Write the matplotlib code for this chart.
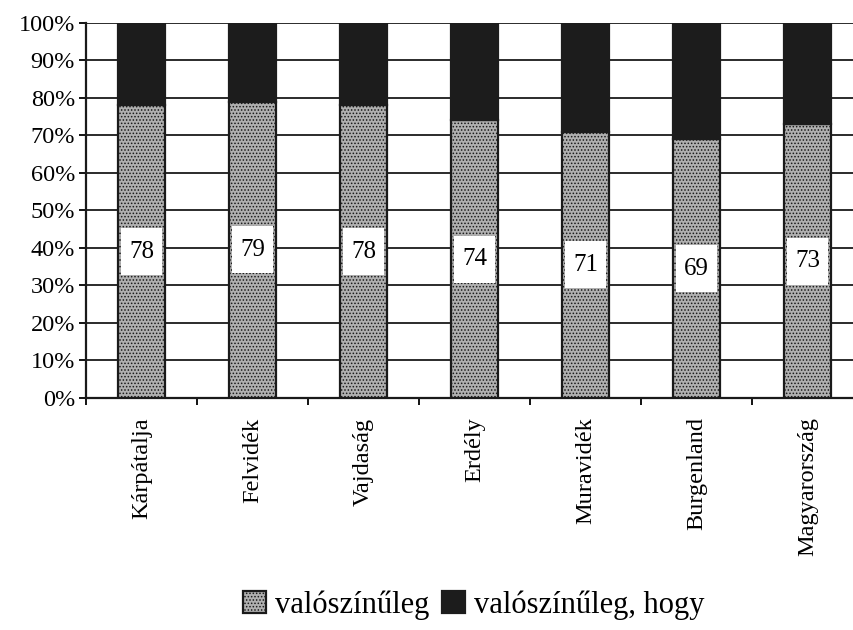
import matplotlib.pyplot as plt
import numpy as np

regions = ["Kárpátalja", "Felvidék", "Vajdaság", "Erdély", "Muravidék", "Burgenland", "Magyarország"]
likely = [78, 79, 78, 74, 71, 69, 73]
likely_that = [22, 21, 22, 26, 29, 31, 27]
legend_labels = ["valószínűleg", "valószínűleg, hogy"]

plt.rcParams["font.family"] = ["Liberation Serif", "DejaVu Serif"]
plt.rcParams["hatch.linewidth"] = 0.7

fig = plt.figure(figsize=(8.54, 6.3), dpi=100)
ax = fig.add_axes([0.1007, 0.3683, 0.9098, 0.5952])

x = np.arange(len(regions))
w = 0.42
b1 = ax.bar(x, likely, width=w, color="#b0b0b0", edgecolor="#1a1a1a",
            linewidth=1.6, hatch=".....", zorder=3)
b2 = ax.bar(x, likely_that, bottom=likely, width=w, color="#1c1c1c",
            edgecolor="#1c1c1c", linewidth=1.6, zorder=3)

# white label boxes inside the lower segment, centred on its midpoint
mid = np.array(likely) / 2
box_h = 12.5
ax.bar(x, box_h, bottom=mid - box_h / 2, width=w - 0.05, color="white",
       edgecolor="none", zorder=4)
for xi, v, m in zip(x, likely, mid):
    ax.text(xi, m, str(v), ha="center", va="center", fontsize=18, zorder=5)

ax.set_xlim(-0.5, len(regions) - 0.5)
ax.set_ylim(0, 100)
ax.set_yticks(range(0, 101, 10))
ax.set_yticklabels([f"{t}%" for t in range(0, 101, 10)], fontsize=17.5)
ax.yaxis.grid(True, color="#1a1a1a", linewidth=1.3, zorder=0)
ax.set_axisbelow(True)

ax.set_xticks(x)
ax.set_xticklabels(regions, rotation=90, fontsize=17.5)
ax.tick_params(axis="x", length=0, pad=14)
ax.set_xticks(np.arange(len(regions) + 1) - 0.5, minor=True)
ax.tick_params(axis="x", which="minor", length=5, width=1.3, direction="out")
ax.tick_params(axis="y", length=5, width=1.3, direction="out", pad=3)

for s in ["top", "right"]:
    ax.spines[s].set_visible(False)
for s in ["left", "bottom"]:
    ax.spines[s].set_linewidth(1.6)
    ax.spines[s].set_color("#1a1a1a")

fig.legend([b1, b2], legend_labels, loc="center", bbox_to_anchor=(0.555, 0.04),
           ncol=2, frameon=False, fontsize=22, handlelength=0.75, handleheight=0.75,
           handletextpad=0.3, columnspacing=0.4)

fig.savefig("out.png", dpi=100)
